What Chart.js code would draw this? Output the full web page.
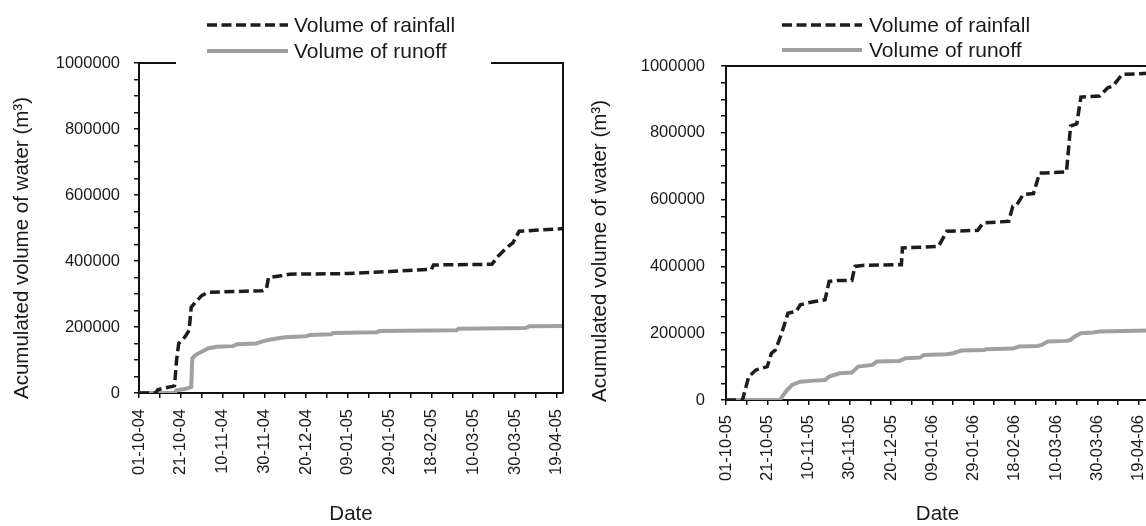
<!DOCTYPE html>
<html><head><meta charset="utf-8">
<script src="https://cdn.jsdelivr.net/npm/chart.js@4.4.1/dist/chart.umd.min.js"></script>
<style>
html,body{margin:0;padding:0;background:#fff;overflow:hidden;width:1146px;height:526px;}
.box{position:absolute;top:0;height:526px;}
#c1box{left:0;width:573px;}
#c2box{left:573px;width:590px;}
</style></head><body>
<div id="c1box" class="box"><canvas id="c1" width="573" height="526"></canvas></div>
<div id="c2box" class="box"><canvas id="c2" width="590" height="526"></canvas></div>
<script>
// Days counted from 01-10 of each season
const rain0405Days = [0, 8, 9, 12, 16, 17, 18, 19, 22, 24, 25, 27, 30, 33, 59, 61, 62, 68, 72, 100, 120, 140, 141, 169, 172, 176, 179, 182, 200, 205];
const rain0405Vals = [0, 0, 10000, 15000, 20000, 22000, 100000, 150000, 170000, 190000, 260000, 275000, 295000, 305000, 310000, 315000, 350000, 355000, 360000, 362000, 368000, 375000, 388000, 390000, 415000, 440000, 455000, 490000, 497000, 500000];
const runoff0405Days = [0, 17, 18, 22, 25, 25.5, 27, 30, 33, 37, 45, 47, 56, 60, 63, 69, 72, 80, 82, 92, 93, 114, 115, 152, 153, 185, 187, 205];
const runoff0405Vals = [0, 0, 8000, 12000, 18000, 105000, 115000, 125000, 135000, 140000, 142000, 148000, 150000, 158000, 162000, 168000, 170000, 172000, 176000, 178000, 182000, 184000, 188000, 190000, 195000, 197000, 202000, 203000];

const rain0506Days = [0, 8, 11, 14.5, 20, 22, 24, 27, 30, 34, 36, 39, 43, 48, 50, 54, 61, 62.5, 66, 85, 85.5, 103, 107, 122, 124.6, 137, 139, 141, 144, 149, 152, 155, 165, 167, 170, 172, 181, 185, 187.5, 192, 205];
const rain0506Vals = [0, 0, 70000, 90000, 100000, 140000, 150000, 200000, 260000, 265000, 285000, 290000, 295000, 300000, 355000, 358000, 358000, 400000, 403000, 405000, 455000, 460000, 505000, 508000, 530000, 535000, 580000, 585000, 615000, 618000, 680000, 680000, 683000, 820000, 827000, 907000, 910000, 935000, 940000, 975000, 978000];
const runoff0506Days = [0, 26, 29.6, 32, 36, 43, 48, 50, 55, 61, 64, 71, 73, 84, 87, 94, 96, 107, 110, 114, 125, 126, 139, 142, 151, 153, 156, 165, 167, 169, 172, 178, 181, 205];
const runoff0506Vals = [0, 0, 30000, 45000, 55000, 58000, 60000, 70000, 80000, 82000, 100000, 105000, 115000, 117000, 125000, 127000, 135000, 137000, 140000, 148000, 150000, 152000, 154000, 160000, 162000, 165000, 175000, 177000, 180000, 190000, 200000, 202000, 205000, 208000];

const xTickLabels0405 = ['01-10-04','21-10-04','10-11-04','30-11-04','20-12-04','09-01-05','29-01-05','18-02-05','10-03-05','30-03-05','19-04-05'];
const xTickLabels0506 = ['01-10-05','21-10-05','10-11-05','30-11-05','20-12-05','09-01-06','29-01-06','18-02-06','10-03-06','30-03-06','19-04-06'];
const yTickLabels = [0, 200000, 400000, 600000, 800000, 1000000];
const seriesNames = ['Volume of rainfall', 'Volume of runoff'];
const xTitle = 'Date';
const yTitle = 'Acumulated volume of water (m³)';

const FONT = "'Liberation Sans', Arial, sans-serif";
const TXT = '#1a1a1a';

function pts(d, v) { return d.map((x, i) => ({x: x, y: v[i]})); }

const boxLegend = {
  id: 'boxLegend',
  afterDraw(chart, args, o) {
    const ctx = chart.ctx, a = chart.chartArea;
    ctx.save();
    ctx.strokeStyle = '#111'; ctx.lineWidth = 2;
    ctx.beginPath();
    ctx.moveTo(a.left, a.top); ctx.lineTo(a.right, a.top); ctx.lineTo(a.right, a.bottom);
    ctx.stroke();
    if (o.gap) { ctx.fillStyle = '#fff'; ctx.fillRect(o.gap[0], a.top - 4, o.gap[1] - o.gap[0], 8); }
    chart.data.datasets.forEach((ds, i) => {
      const y = o.rows[i];
      ctx.strokeStyle = ds.borderColor; ctx.lineWidth = ds.borderWidth;
      ctx.setLineDash(ds.borderDash || []);
      ctx.beginPath(); ctx.moveTo(o.x0, y); ctx.lineTo(o.x1, y); ctx.stroke();
      ctx.setLineDash([]);
      ctx.fillStyle = TXT; ctx.font = o.font; ctx.textBaseline = 'middle'; ctx.textAlign = 'left';
      ctx.fillText(ds.label, o.tx, y + 1);
    });
    // axis titles
    ctx.fillStyle = TXT; ctx.textAlign = 'center'; ctx.textBaseline = 'middle';
    ctx.font = o.titleFont;
    ctx.fillText(xTitle, (a.left + a.right) / 2, o.dateY);
    ctx.translate(o.ytX, o.ytY); ctx.rotate(-Math.PI / 2);
    ctx.fillText(yTitle, 0, 0);
    ctx.restore();
  }
};

function makeChart(id, rainD, rainV, runD, runV, xLabels, L) {
  return new Chart(document.getElementById(id), {
    type: 'line',
    data: {
      datasets: [
        {label: seriesNames[0], data: pts(rainD, rainV), borderColor: '#1c1c1c', borderWidth: 3.5, borderDash: [10, 4.5], pointRadius: 0, tension: 0, fill: false},
        {label: seriesNames[1], data: pts(runD, runV), borderColor: '#a0a0a0', borderWidth: 4, pointRadius: 0, tension: 0, fill: false}
      ]
    },
    options: {
      responsive: false, animation: false,
      layout: {padding: {top: L.top, right: L.right, left: 0, bottom: 0}},
      plugins: {legend: {display: false}, tooltip: {enabled: false},
        boxLegend: L.legend},
      scales: {
        x: {
          type: 'linear', min: 0, max: L.xmax,
          afterFit: s => { s.height = L.xh; s.paddingLeft = 0; s.paddingRight = 0; },
          border: {color: '#111', width: 2},
          grid: {drawOnChartArea: false, drawTicks: true, tickLength: 5, color: '#111', lineWidth: 1.5},
          ticks: {stepSize: 10, autoSkip: false, includeBounds: false, minRotation: 90, maxRotation: 90, padding: L.xpad,
            color: TXT, font: {family: FONT, size: 16.5},
            callback: v => (v % 20 === 0 ? xLabels[v / 20] : '')}
        },
        y: {
          min: 0, max: 1000000,
          afterFit: s => { s.width = L.yw; },
          border: {color: '#111', width: 2},
          grid: {drawOnChartArea: false, drawTicks: true, tickLength: 5, color: '#111', lineWidth: 1.5},
          ticks: {stepSize: 50000, autoSkip: false, padding: L.ypad, color: TXT, font: {family: FONT, size: 16.5},
            callback: v => (yTickLabels.includes(v) ? String(v) : '')}
        }
      }
    },
    plugins: [boxLegend]
  });
}

makeChart('c1', rain0405Days, rain0405Vals, runoff0405Days, runoff0405Vals, xTickLabels0405,
  {top: 63, right: 10, xh: 133, yw: 139, xmax: 203, xpad: 11, ypad: 14,
   legend: {gap: [176, 491], rows: [25, 51], x0: 207, x1: 288, tx: 294, font: '21px ' + FONT,
            titleFont: '20.5px ' + FONT, dateY: 514, ytX: 22, ytY: 248}});
makeChart('c2', rain0506Days, rain0506Vals, runoff0506Days, runoff0506Vals, xTickLabels0506,
  {top: 66, right: 14, xh: 126, yw: 153, xmax: 205, xpad: 10, ypad: 16,
   legend: {gap: null, rows: [25, 50], x0: 209, x1: 289, tx: 296, font: '21px ' + FONT,
            titleFont: '20.5px ' + FONT, dateY: 514, ytX: 27, ytY: 251}});
</script>
</body></html>
